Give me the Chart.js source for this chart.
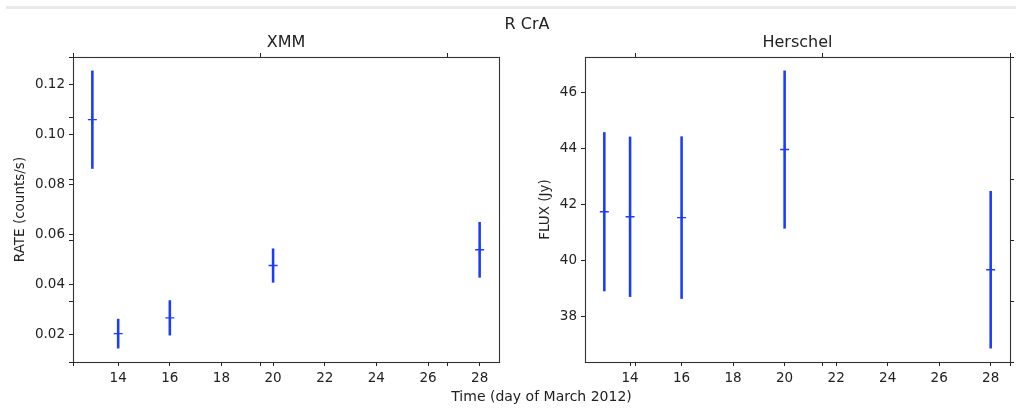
<!DOCTYPE html>
<html>
<head>
<meta charset="utf-8">
<title>R CrA light curves</title>
<script src="https://cdn.jsdelivr.net/npm/chart.js@4.4.1/dist/chart.umd.min.js"></script>
<style>
  html, body { margin: 0; padding: 0; background: #ffffff; }
  #fig { position: relative; width: 1016px; height: 409px; overflow: hidden; font-family: "DejaVu Sans", sans-serif; }
  #fig canvas { position: absolute; left: 0; top: 0; }
  #band { position: absolute; left: 6px; right: 0; top: 6px; height: 3px; background: #e9e9e9; }
  #suptitle { position: absolute; left: 427px; width: 200px; top: 14px; line-height: 20px;
              text-align: center; font-size: 16px; color: #222222; }
</style>
</head>
<body>
<div id="fig">
  <div id="band"></div>
  <canvas id="outer" width="1016" height="409" style="width:1016px;height:409px"></canvas>
  <canvas id="xmm" width="1016" height="409" style="width:1016px;height:409px"></canvas>
  <canvas id="herschel" width="1016" height="409" style="width:1016px;height:409px"></canvas>
  <div id="suptitle">R CrA</div>
</div>
<script>
// Observation days (March 2012)
const days = [13, 14, 16, 20, 28];

// XMM count rate and 1-sigma error
const xmmRate = [0.1060, 0.0205, 0.0268, 0.0477, 0.0540];
const xmmErr  = [0.0195, 0.0058, 0.0069, 0.0067, 0.0110];

// Herschel flux and 1-sigma error
const herschelFlux = [41.74, 41.56, 41.53, 43.96, 39.67];
const herschelErr  = [2.83, 2.85, 2.89, 2.81, 2.80];

// Tick labels
const dayTicks   = [14, 16, 18, 20, 22, 24, 26, 28];
const rateTicks  = [0.02, 0.04, 0.06, 0.08, 0.10, 0.12];
const fluxTicks  = [38, 40, 42, 44, 46];
const frameTicks = [0, 0.2, 0.4, 0.6, 0.8, 1.0];

const FONT = 'DejaVu Sans';
const INK = '#222222';
const BLUE = 'rgb(25, 60, 255)';

// Autoscale with 5% margins, like the default matplotlib view limits
function padded(lo, hi) {
  const m = (hi - lo) * 0.05;
  return [lo - m, hi + m];
}
const dayLim  = padded(Math.min(...days), Math.max(...days));
const rateLim = padded(Math.min(...xmmRate.map((v, i) => v - xmmErr[i])),
                       Math.max(...xmmRate.map((v, i) => v + xmmErr[i])));
const fluxLim = padded(Math.min(...herschelFlux.map((v, i) => v - herschelErr[i])),
                       Math.max(...herschelFlux.map((v, i) => v + herschelErr[i])));

const fixedTicks = values => scale => { scale.ticks = values.map(v => ({ value: v })); };

// Full box around each panel
const framePlugin = {
  id: 'panelFrame',
  afterDatasetsDraw(chart) {
    const { ctx, chartArea: a } = chart;
    ctx.save();
    ctx.strokeStyle = '#333333';
    ctx.lineWidth = 1.1;
    ctx.strokeRect(a.left + 0.5, a.top + 0.5, a.right - a.left, a.bottom - a.top);
    ctx.restore();
  }
};

function tickGrid() {
  return { display: true, drawOnChartArea: false, drawTicks: true, tickLength: 4,
           tickColor: INK, tickWidth: 1, offset: false };
}

function makePanel(canvasId, title, values, errors, yLim, yTicks, yFormat, yTitle, padding, yWidth, yTitlePad) {
  return new Chart(document.getElementById(canvasId), {
    type: 'scatter',
    data: {
      datasets: [
        {
          type: 'bar',
          data: days.map((d, i) => ({ x: d, y: [values[i] - errors[i], values[i] + errors[i]] })),
          backgroundColor: BLUE,
          borderWidth: 0,
          barThickness: 1.9,
          grouped: false,
          order: 2
        },
        {
          type: 'scatter',
          data: days.map((d, i) => ({ x: d, y: values[i] })),
          pointStyle: 'cross',
          pointRadius: 4.5,
          borderColor: BLUE,
          backgroundColor: BLUE,
          borderWidth: 1.4,
          order: 1
        }
      ]
    },
    options: {
      responsive: false,
      animation: false,
      events: [],
      layout: { padding },
      plugins: {
        legend: { display: false },
        tooltip: { enabled: false },
        title: {
          display: true, text: title, fullSize: false, color: INK,
          font: { family: FONT, size: 16, weight: 'normal', lineHeight: 1.2 },
          padding: { top: 0, bottom: 4.4 }
        }
      },
      scales: {
        x: {
          type: 'linear', display: true, position: 'bottom', offset: false,
          min: dayLim[0], max: dayLim[1],
          afterBuildTicks: fixedTicks(dayTicks),
          afterFit: s => { s.height = 47; },
          ticks: { color: INK, font: { family: FONT, size: 13.5 }, padding: 4,
                   maxRotation: 0, autoSkip: false, callback: v => String(v) },
          grid: tickGrid(),
          border: { display: false }
        },
        y: {
          type: 'linear', display: true, position: 'left', offset: false,
          min: yLim[0], max: yLim[1],
          afterBuildTicks: fixedTicks(yTicks),
          afterFit: s => { s.width = yWidth; },
          ticks: { color: INK, font: { family: FONT, size: 13.5 }, padding: 4,
                   autoSkip: false, callback: yFormat },
          grid: tickGrid(),
          border: { display: false },
          title: { display: true, text: yTitle, color: INK,
                   font: { family: FONT, size: 13.5, weight: 'normal', lineHeight: 1.2 },
                   padding: { top: yTitlePad, bottom: 0 } }
        }
      }
    },
    plugins: [framePlugin]
  });
}

// Enclosing axes spanning both panels: tick marks only, plus the shared time label
function frameScale(axis, position, extra) {
  return Object.assign({
    type: 'linear', axis, position, display: true, offset: false,
    min: 0, max: 1,
    afterBuildTicks: fixedTicks(frameTicks),
    ticks: { display: false },
    grid: tickGrid(),
    border: { display: false }
  }, extra);
}

new Chart(document.getElementById('outer'), {
  type: 'scatter',
  data: { datasets: [{ data: [], xAxisID: 'xb', yAxisID: 'yl' }] },
  options: {
    responsive: false,
    animation: false,
    events: [],
    layout: { padding: { left: 69, top: 53, right: 2, bottom: 0 } },
    plugins: { legend: { display: false }, tooltip: { enabled: false }, title: { display: false } },
    scales: {
      xb: frameScale('x', 'bottom', {
        afterFit: s => { s.height = 47; },
        title: { display: true, text: 'Time (day of March 2012)', color: INK,
                 font: { family: FONT, size: 14, weight: 'normal', lineHeight: 1.2 },
                 padding: { top: 0, bottom: 3.6 } }
      }),
      xt: frameScale('x', 'top', { afterFit: s => { s.height = 4; } }),
      yl: frameScale('y', 'left', { afterFit: s => { s.width = 4; } }),
      yr: frameScale('y', 'right', { afterFit: s => { s.width = 4; } })
    }
  }
});

makePanel('xmm', 'XMM', xmmRate, xmmErr, rateLim, rateTicks, v => v.toFixed(2),
          'RATE (counts/s)', { left: 0, top: 33.4, right: 517, bottom: 0 }, 73, 12);

makePanel('herschel', 'Herschel', herschelFlux, herschelErr, fluxLim, fluxTicks, v => String(v),
          'FLUX (Jy)', { left: 525, top: 33.4, right: 6, bottom: 0 }, 60, 11.9);
</script>
</body>
</html>
